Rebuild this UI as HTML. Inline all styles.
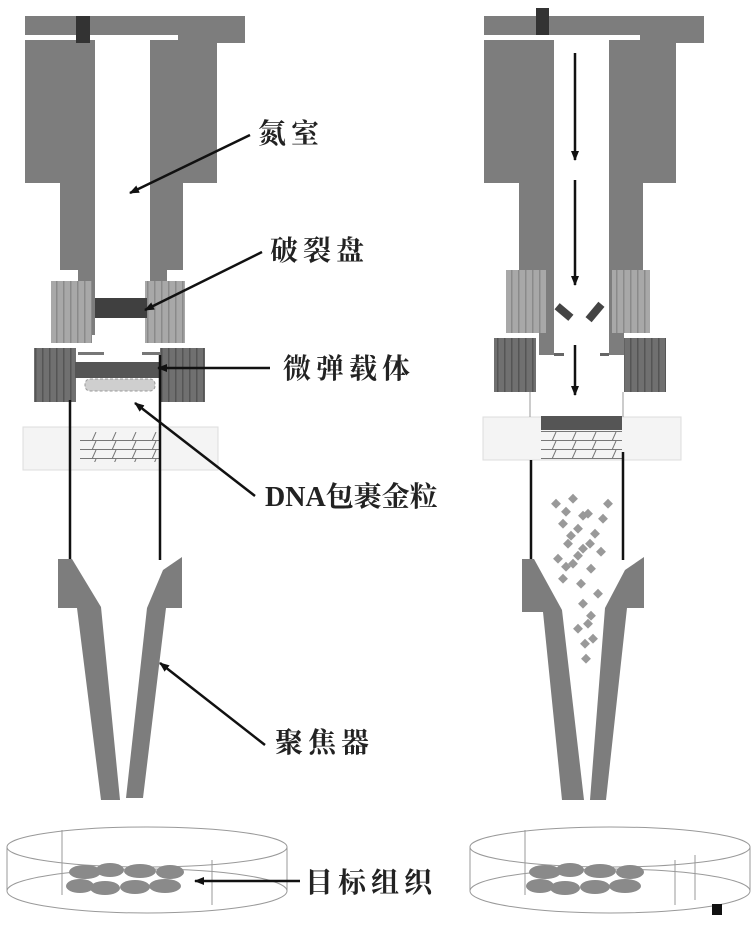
<!DOCTYPE html>
<html><head><meta charset="utf-8"><style>
html,body{margin:0;padding:0;background:#fff;}
svg{display:block;}
text{font-family:"Liberation Serif","Noto Serif CJK SC","Noto Sans CJK SC",serif;fill:#222;font-weight:bold;}
</style></head><body>
<svg width="751" height="927" viewBox="0 0 751 927" xmlns="http://www.w3.org/2000/svg">
<defs>
<marker id="ah" markerWidth="10" markerHeight="8" refX="9" refY="4" orient="auto" markerUnits="userSpaceOnUse">
<path d="M0,0 L10,4 L0,8 z" fill="#111"/></marker>
<pattern id="st1" width="7" height="10" patternUnits="userSpaceOnUse"><rect width="7" height="10" fill="#a8a8a8"/><rect width="1.5" height="10" fill="#8a8a8a"/></pattern>
<pattern id="st2" width="7" height="10" patternUnits="userSpaceOnUse"><rect width="7" height="10" fill="#707070"/><rect width="1.5" height="10" fill="#555"/></pattern>
<pattern id="mesh" width="20" height="9" patternUnits="userSpaceOnUse"><rect width="20" height="9" fill="#f4f4f4"/><line x1="0" y1="8.5" x2="20" y2="8.5" stroke="#777" stroke-width="1"/><line x1="16" y1="0" x2="12" y2="9" stroke="#777" stroke-width="1"/></pattern>
</defs>

<!-- LEFT -->
<g fill="#7d7d7d">
<rect x="25" y="16" width="220" height="19"/>
<rect x="178" y="16" width="67" height="27"/>
<rect x="25" y="40" width="70" height="143"/>
<rect x="60" y="183" width="35" height="87"/>
<rect x="78" y="270" width="17" height="65"/>
<rect x="150" y="40" width="67" height="143"/>
<rect x="150" y="183" width="33" height="87"/>
<rect x="150" y="270" width="17" height="15"/>
</g>
<rect x="76" y="16" width="14" height="27" fill="#333"/>
<rect x="51" y="281" width="41" height="62" fill="url(#st1)"/>
<rect x="145" y="281" width="40" height="62" fill="url(#st1)"/>
<rect x="95" y="298" width="52" height="20" fill="#404040"/>
<rect x="34" y="348" width="42" height="54" fill="url(#st2)"/>
<rect x="160" y="348" width="45" height="54" fill="url(#st2)"/>
<rect x="78" y="352" width="26" height="3" fill="#777"/>
<rect x="142" y="352" width="18" height="3" fill="#777"/>
<rect x="75" y="362" width="85" height="16" fill="#555"/>
<rect x="85" y="379" width="70" height="12" rx="5" fill="#cfcfcf" stroke="#999" stroke-dasharray="3 2"/>
<rect x="23" y="427" width="195" height="43" fill="#f4f4f4" stroke="#ddd"/>
<rect x="80" y="432" width="80" height="30" fill="url(#mesh)"/>
<line x1="70" y1="400" x2="70" y2="560" stroke="#111" stroke-width="2.5"/>
<line x1="160" y1="355" x2="160" y2="560" stroke="#111" stroke-width="2.5"/>
<g fill="#7d7d7d">
<path d="M58,559 L72,559 L101,607 L120,800 L101,800 L77,608 L58,608 z"/>
<path d="M182,557 L182,608 L166,608 L143,798 L126,798 L147,608 L163,570 z"/>
</g>
<!-- left dish -->
<g fill="none" stroke="#999" stroke-width="1">
<ellipse cx="147" cy="847" rx="140" ry="20"/>
<ellipse cx="147" cy="891" rx="140" ry="22"/>
<line x1="7" y1="847" x2="7" y2="891"/><line x1="287" y1="847" x2="287" y2="891"/>
<line x1="62" y1="830" x2="62" y2="895"/><line x1="212" y1="860" x2="212" y2="905"/>
</g>
<g fill="#8a8a8a">
<ellipse cx="85" cy="872" rx="16" ry="7"/><ellipse cx="110" cy="870" rx="14" ry="7"/><ellipse cx="140" cy="871" rx="16" ry="7"/><ellipse cx="170" cy="872" rx="14" ry="7"/>
<ellipse cx="80" cy="886" rx="14" ry="7"/><ellipse cx="105" cy="888" rx="15" ry="7"/><ellipse cx="135" cy="887" rx="15" ry="7"/><ellipse cx="165" cy="886" rx="16" ry="7"/>
</g>
<!-- labels/arrows left -->
<g stroke="#111" stroke-width="2.5" marker-end="url(#ah)">
<line x1="250" y1="135" x2="130" y2="193"/>
<line x1="262" y1="252" x2="145" y2="310"/>
<line x1="270" y1="368" x2="158" y2="368"/>
<line x1="255" y1="496" x2="135" y2="403"/>
<line x1="265" y1="745" x2="160" y2="663"/>
<line x1="300" y1="881" x2="195" y2="881"/>
</g>
<g font-size="28" letter-spacing="5">
<text x="258" y="143">氮室</text>
<text x="270" y="260">破裂盘</text>
<text x="283" y="378">微弹载体</text>
<text x="265" y="506" letter-spacing="0">DNA包裹金粒</text>
<text x="275" y="752">聚焦器</text>
<text x="305" y="892">目标组织</text>
</g>

<!-- RIGHT -->
<g fill="#7d7d7d">
<rect x="484" y="16" width="220" height="19"/>
<rect x="640" y="16" width="64" height="27"/>
<rect x="484" y="40" width="70" height="143"/>
<rect x="519" y="183" width="35" height="90"/>
<rect x="539" y="273" width="15" height="82"/>
<rect x="609" y="40" width="67" height="143"/>
<rect x="609" y="183" width="34" height="90"/>
<rect x="609" y="273" width="15" height="82"/>
</g>
<rect x="536" y="8" width="13" height="27" fill="#333"/>
<rect x="506" y="270" width="40" height="63" fill="url(#st1)"/>
<rect x="612" y="270" width="38" height="63" fill="url(#st1)"/>
<rect x="494" y="338" width="42" height="54" fill="url(#st2)"/>
<rect x="624" y="338" width="42" height="54" fill="url(#st2)"/>
<rect x="554" y="353" width="10" height="3" fill="#666"/>
<rect x="600" y="353" width="9" height="3" fill="#666"/>
<rect x="555" y="308" width="18" height="8" fill="#444" transform="rotate(40 564 312)"/>
<rect x="585" y="308" width="20" height="8" fill="#444" transform="rotate(-50 595 312)"/>
<rect x="483" y="417" width="198" height="43" fill="#f4f4f4" stroke="#ddd"/>
<rect x="541" y="416" width="81" height="14" fill="#555"/>
<rect x="541" y="431" width="81" height="28" fill="url(#mesh)"/>
<line x1="530" y1="392" x2="530" y2="417" stroke="#999"/>
<line x1="623" y1="392" x2="623" y2="417" stroke="#999"/>
<line x1="531" y1="460" x2="531" y2="560" stroke="#111" stroke-width="2.5"/>
<line x1="623" y1="452" x2="623" y2="560" stroke="#111" stroke-width="2.5"/>
<g stroke="#111" stroke-width="2.5" marker-end="url(#ah)">
<line x1="575" y1="53" x2="575" y2="160"/>
<line x1="575" y1="180" x2="575" y2="285"/>
<line x1="575" y1="345" x2="575" y2="395"/>
</g>
<g fill="#7d7d7d">
<path d="M522,559 L534,559 L562,610 L584,800 L562,800 L543,612 L522,612 z"/>
<path d="M644,557 L644,608 L627,608 L606,800 L590,800 L605,608 L625,570 z"/>
</g>
<g fill="#999">
<rect x="553" y="500" width="7" height="7" transform="rotate(45 556 503)"/><rect x="570" y="495" width="7" height="7" transform="rotate(45 573 498)"/>
<rect x="585" y="510" width="7" height="7" transform="rotate(45 588 513)"/><rect x="600" y="515" width="7" height="7" transform="rotate(45 603 518)"/>
<rect x="560" y="520" width="7" height="7" transform="rotate(45 563 523)"/><rect x="575" y="525" width="7" height="7" transform="rotate(45 578 528)"/>
<rect x="592" y="530" width="7" height="7" transform="rotate(45 595 533)"/><rect x="565" y="540" width="7" height="7" transform="rotate(45 568 543)"/>
<rect x="580" y="545" width="7" height="7" transform="rotate(45 583 548)"/><rect x="598" y="548" width="7" height="7" transform="rotate(45 601 551)"/>
<rect x="570" y="560" width="7" height="7" transform="rotate(45 573 563)"/><rect x="588" y="565" width="7" height="7" transform="rotate(45 591 568)"/>
<rect x="555" y="555" width="7" height="7" transform="rotate(45 558 558)"/><rect x="578" y="580" width="7" height="7" transform="rotate(45 581 583)"/>
<rect x="595" y="590" width="7" height="7" transform="rotate(45 598 593)"/><rect x="580" y="600" width="7" height="7" transform="rotate(45 583 603)"/>
<rect x="588" y="612" width="7" height="7" transform="rotate(45 591 615)"/><rect x="575" y="625" width="7" height="7" transform="rotate(45 578 628)"/>
<rect x="590" y="635" width="7" height="7" transform="rotate(45 593 638)"/><rect x="583" y="655" width="7" height="7" transform="rotate(45 586 658)"/>
<rect x="605" y="500" width="7" height="7" transform="rotate(45 608 503)"/><rect x="560" y="575" width="7" height="7" transform="rotate(45 563 578)"/>
<rect x="563" y="508" width="7" height="7" transform="rotate(45 566 511)"/><rect x="580" y="512" width="7" height="7" transform="rotate(45 583 515)"/>
<rect x="568" y="532" width="7" height="7" transform="rotate(45 571 535)"/><rect x="587" y="540" width="7" height="7" transform="rotate(45 590 543)"/>
<rect x="575" y="552" width="7" height="7" transform="rotate(45 578 555)"/><rect x="563" y="563" width="7" height="7" transform="rotate(45 566 566)"/>
<rect x="585" y="620" width="7" height="7" transform="rotate(45 588 623)"/><rect x="582" y="640" width="7" height="7" transform="rotate(45 585 643)"/>
</g>
<!-- right dish -->
<g fill="none" stroke="#999" stroke-width="1">
<ellipse cx="610" cy="847" rx="140" ry="20"/>
<ellipse cx="610" cy="891" rx="140" ry="22"/>
<line x1="470" y1="847" x2="470" y2="891"/><line x1="750" y1="847" x2="750" y2="891"/>
<line x1="525" y1="830" x2="525" y2="895"/><line x1="675" y1="860" x2="675" y2="905"/><line x1="695" y1="855" x2="695" y2="900"/>
</g>
<g fill="#8a8a8a">
<ellipse cx="545" cy="872" rx="16" ry="7"/><ellipse cx="570" cy="870" rx="14" ry="7"/><ellipse cx="600" cy="871" rx="16" ry="7"/><ellipse cx="630" cy="872" rx="14" ry="7"/>
<ellipse cx="540" cy="886" rx="14" ry="7"/><ellipse cx="565" cy="888" rx="15" ry="7"/><ellipse cx="595" cy="887" rx="15" ry="7"/><ellipse cx="625" cy="886" rx="16" ry="7"/>
</g>
<rect x="712" y="904" width="10" height="11" fill="#111"/>
</svg>
</body></html>
